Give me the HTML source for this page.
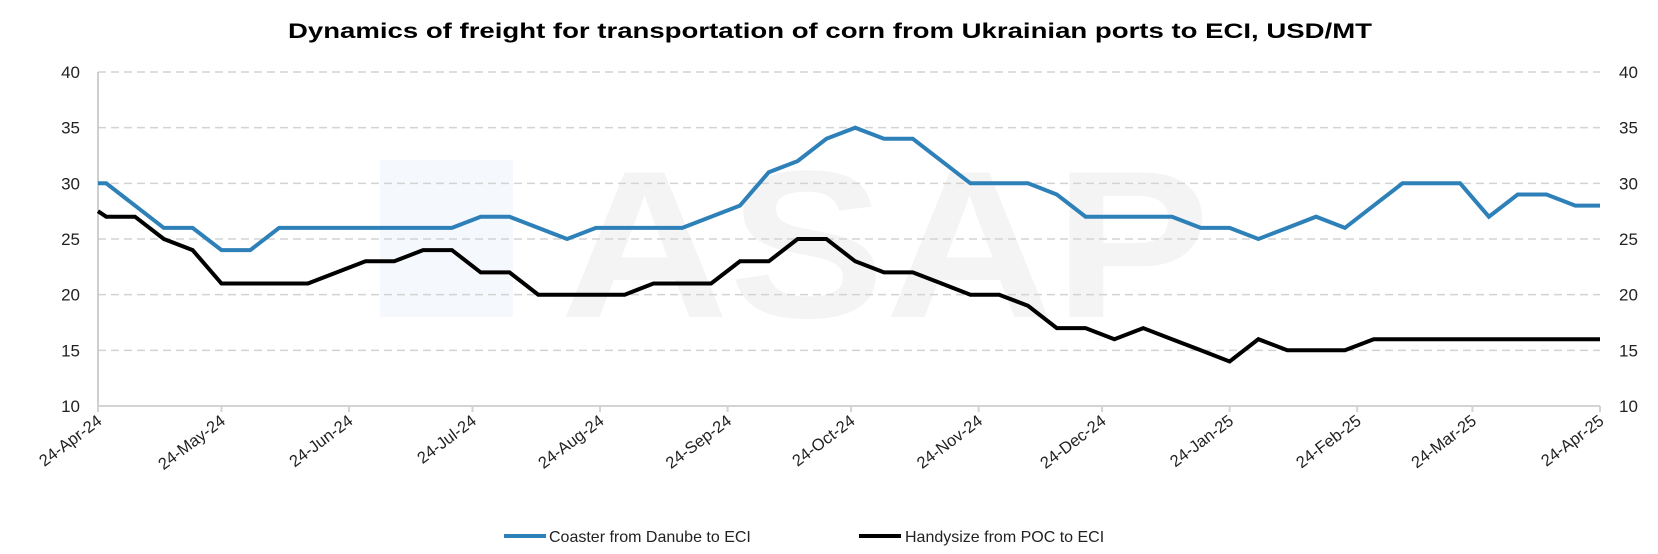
<!DOCTYPE html>
<html><head><meta charset="utf-8"><style>
html,body{margin:0;padding:0;background:#fff;}
svg{display:block;font-family:"Liberation Sans",sans-serif;}
</style></head><body>
<svg id="chart" width="1658" height="554" viewBox="0 0 1658 554" xmlns="http://www.w3.org/2000/svg">
<rect x="380" y="160" width="133" height="157" fill="#f5f8fc"/>
<text x="560" y="317" font-size="210" font-weight="bold" fill="#f4f4f4" textLength="650" lengthAdjust="spacingAndGlyphs">ASAP</text>
<text x="830" y="38" text-anchor="middle" font-size="21" font-weight="bold" fill="#000" textLength="1084" lengthAdjust="spacingAndGlyphs">Dynamics of freight for transportation of corn from Ukrainian ports to ECI, USD/MT</text>
<g id="grid"></g><g id="axes"></g><g id="series"></g>
<g>
<line x1="504" y1="536" x2="546" y2="536" stroke="#2e80b8" stroke-width="4"/>
<text x="549" y="542" font-size="16" fill="#222">Coaster from Danube to ECI</text>
<line x1="859" y1="536" x2="901" y2="536" stroke="#000" stroke-width="4"/>
<text x="905" y="542" font-size="16" fill="#222">Handysize from POC to ECI</text>
</g>
</svg>
<script>
const yTicks = [10, 15, 20, 25, 30, 35, 40];
const xTickLabels = ["24-Apr-24","24-May-24","24-Jun-24","24-Jul-24","24-Aug-24","24-Sep-24","24-Oct-24","24-Nov-24","24-Dec-24","24-Jan-25","24-Feb-25","24-Mar-25","24-Apr-25"];
const xTickDays = [0,30,61,91,122,153,183,214,244,275,306,334,365];
const dayOffsets = [0,2,9,16,23,30,37,44,51,58,65,72,79,86,93,100,107,114,121,128,135,142,149,156,163,170,177,184,191,198,205,212,219,226,233,240,247,254,261,268,275,282,289,296,303,310,317,324,331,338,345,352,359,365];
const coaster = [30,30,28,26,26,24,24,26,26,26,26,26,26,26,27,27,26,25,26,26,26,26,27,28,31,32,34,35,34,34,32,30,30,30,29,27,27,27,27,26,26,25,26,27,26,28,30,30,30,27,29,29,28,28];
const handysize = [27.5,27,27,25,24,21,21,21,21,22,23,23,24,24,22,22,20,20,20,20,21,21,21,23,23,25,25,23,22,22,21,20,20,19,17,17,16,17,16,15,14,16,15,15,15,16,16,16,16,16,16,16,16,16];

const X0=98, X1=1600, Y0=406, Y1=72;
const xs = d => X0 + d/365*(X1-X0);
const ys = v => Y0 - (v-10)/30*(Y0-Y1);
const NS="http://www.w3.org/2000/svg";
function mk(tag, attrs, parent){const e=document.createElementNS(NS,tag);for(const k in attrs)e.setAttribute(k,attrs[k]);parent.appendChild(e);return e;}
const grid=document.getElementById('grid'), axes=document.getElementById('axes'), series=document.getElementById('series');

yTicks.forEach(v=>{
  if(v>10){
    const g=mk('line',{x1:X0,x2:X1,y1:ys(v),y2:ys(v),stroke:'#d3d3d3','stroke-width':1.5,'stroke-dasharray':'8,5'},grid);
    
    
  }
  const l=mk('text',{x:80,y:ys(v)+6,'text-anchor':'end','font-size':17,fill:'#222'},axes);
  l.textContent=v;
  
  
  const r=mk('text',{x:1619,y:ys(v)+6,'font-size':17,fill:'#222'},axes);
  r.textContent=v;
  
  
});
const ya=mk('line',{x1:X0,x2:X0,y1:Y1,y2:Y0,stroke:'#bfbfbf','stroke-width':1.5},axes);


const xa=mk('line',{x1:X0,x2:X1,y1:Y0,y2:Y0,stroke:'#d3d3d3','stroke-width':2},axes);


xTickLabels.forEach((lab,i)=>{
  const x=xs(xTickDays[i]);
  const t=mk('line',{x1:x,x2:x,y1:Y0,y2:Y0+6,stroke:'#d3d3d3','stroke-width':2},axes);
  
  
  const tx=mk('text',{x:x+5,y:Y0+17,'text-anchor':'end','font-size':16.5,fill:'#222',transform:`rotate(-37 ${x+5} ${Y0+17})`},axes);
  tx.textContent=lab;
  
  
});
function line(vals,color,name){
  const pts=vals.map((v,i)=>xs(dayOffsets[i]).toFixed(1)+','+ys(v).toFixed(1)).join(' ');
  const p=mk('polyline',{points:pts,fill:'none',stroke:color,'stroke-width':4,'stroke-linejoin':'miter'},series);
  
  
}
line(coaster,'#2e80b8','coaster-line');
line(handysize,'#000','handysize-line');
</script>
</body></html>
